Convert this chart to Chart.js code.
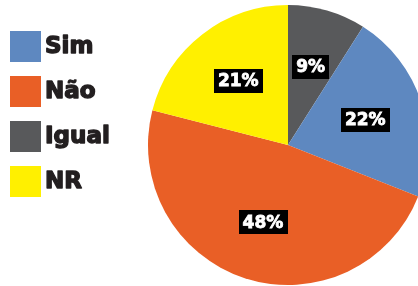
<!DOCTYPE html>
<html>
<head>
<meta charset="utf-8">
<script src="https://cdn.jsdelivr.net/npm/chart.js@4"></script>
<style>
  html, body { margin: 0; padding: 0; background: #ffffff; overflow: hidden; }
  #wrap { width: 418px; height: 286px; overflow: hidden; position: relative; }
  canvas { display: block; }
</style>
</head>
<body>
<div id="wrap"><canvas id="c" width="440" height="286"></canvas></div>
<script>
// Data (legend order)
const categories = ['Sim', 'Não', 'Igual', 'NR'];
const values = [22, 48, 9, 21];
const valueLabels = ['22%', '48%', '9%', '21%'];
const colors = ['#5e88c0', '#e95f26', '#58595b', '#fff000'];
// Clockwise drawing order of the slices, starting at 12 o'clock
const sliceOrder = ['Igual', 'Sim', 'Não', 'NR'];

const idx = sliceOrder.map(c => categories.indexOf(c));

const legendPlugin = {
  id: 'customLegend',
  afterDraw(chart) {
    const ctx = chart.ctx;
    ctx.save();
    categories.forEach((cat, i) => {
      const top = 31 + i * 45;
      ctx.fillStyle = colors[i];
      ctx.fillRect(10, top, 31, 31);
      ctx.fillStyle = '#231f20';
      ctx.strokeStyle = '#231f20';
      ctx.lineWidth = 1.4;
      ctx.lineJoin = 'round';
      ctx.font = 'bold 23px "DejaVu Sans"';
      ctx.textBaseline = 'middle';
      ctx.textAlign = 'left';
      ctx.fillText(cat, 45, top + 16.5);
      ctx.strokeText(cat, 45, top + 16.5);
    });
    ctx.restore();
  }
};

const valueLabelPlugin = {
  id: 'valueLabels',
  afterDatasetsDraw(chart) {
    const ctx = chart.ctx;
    const meta = chart.getDatasetMeta(0);
    ctx.save();
    ctx.font = 'bold 17px "DejaVu Sans"';
    ctx.textAlign = 'center';
    ctx.textBaseline = 'middle';
    meta.data.forEach((arc, j) => {
      const p = arc.getProps(['x', 'y', 'startAngle', 'endAngle', 'outerRadius'], true);
      const mid = (p.startAngle + p.endAngle) / 2;
      const r = p.outerRadius * 0.58;
      const px = p.x + Math.cos(mid) * r;
      const py = p.y + Math.sin(mid) * r;
      const txt = chart.data.datasets[0].valueText[j];
      const w = ctx.measureText(txt).width + 8;
      const h = 24;
      ctx.fillStyle = '#000000';
      ctx.fillRect(Math.round(px - w / 2), Math.round(py - h / 2), Math.round(w), h);
      ctx.fillStyle = '#ffffff';
      ctx.strokeStyle = '#ffffff';
      ctx.lineWidth = 0.8;
      ctx.fillText(txt, px, py + 1);
      ctx.strokeText(txt, px, py + 1);
    });
    ctx.restore();
  }
};

new Chart(document.getElementById('c'), {
  type: 'pie',
  data: {
    labels: idx.map(i => categories[i]),
    datasets: [{
      data: idx.map(i => values[i]),
      valueText: idx.map(i => valueLabels[i]),
      backgroundColor: idx.map(i => colors[i]),
      borderWidth: 0
    }]
  },
  options: {
    responsive: false,
    animation: false,
    rotation: 0,
    layout: { padding: { left: 148, right: 12, top: 5, bottom: 1 } },
    plugins: {
      legend: { display: false },
      tooltip: { enabled: false }
    }
  },
  plugins: [legendPlugin, valueLabelPlugin]
});
</script>
</body>
</html>
